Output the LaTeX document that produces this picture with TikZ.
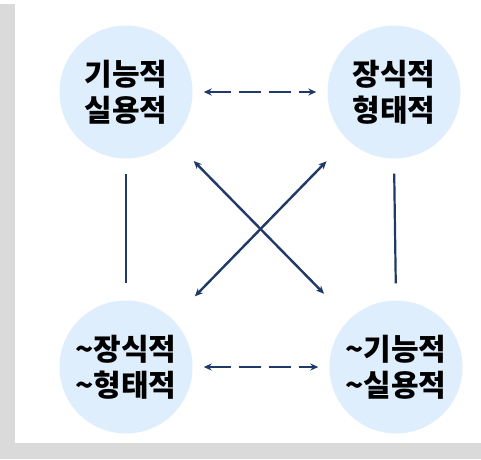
\documentclass[tikz,border=0pt]{standalone}
\usepackage{fontspec}
\newfontfamily\kr{Noto Sans CJK KR}
\usetikzlibrary{arrows.meta}
\definecolor{circfill}{HTML}{DEEEFC}
\definecolor{navy}{HTML}{1F3A68}
\definecolor{shadowgray}{HTML}{DADADA}
\begin{document}
\begin{tikzpicture}[x=1pt,y=-1pt,
  bubble/.style={circle,fill=circfill,minimum size=133pt,inner sep=0pt,align=center,
    font=\kr\bfseries\fontsize{30}{36}\selectfont},
  link/.style={draw=navy,line width=2.2pt},
  dlink/.style={draw=navy,line width=2.4pt,{Stealth[length=8pt,width=7pt]}-{Stealth[length=8pt,width=7pt]}},
  dashlink/.style={dlink,line width=2.6pt,dash pattern=on 22pt off 8pt}]
\useasboundingbox (0,0) rectangle (481,459);
\fill[shadowgray] (0,4) rectangle (481,459);
\fill[white] (15,0) rectangle (481,443);
\node[bubble] (tl) at (126,92) {기능적\\실용적};
\node[bubble] (tr) at (394,92) {장식적\\형태적};
\node[bubble] (bl) at (126,367) {\textasciitilde 장식적\\\textasciitilde 형태적};
\node[bubble] (br) at (396,367) {\textasciitilde 기능적\\\textasciitilde 실용적};
\draw[dashlink,shorten <=11pt,shorten >=11pt] (tl.east) -- (tr.west);
\draw[dashlink,shorten <=11pt,shorten >=11pt] (bl.east |- bl.center) -- (br.west);
\draw[link,shorten <=15pt,shorten >=17pt] (tl.south) -- (bl.north);
\draw[link,shorten <=15pt,shorten >=17pt] (tr.south) -- (br.north);
\draw[dlink,shorten <=30pt,shorten >=36pt] (tl) -- (br);
\draw[dlink,shorten <=30pt,shorten >=32pt] (tr) -- (bl);
\end{tikzpicture}
\end{document}
